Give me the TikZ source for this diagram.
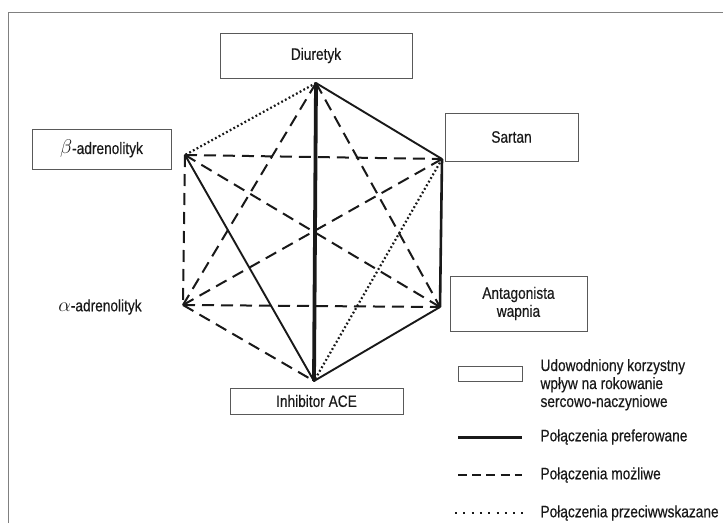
\documentclass[tikz,border=0pt]{standalone}
\usepackage{fontspec}
\setmainfont{Liberation Sans}[FakeStretch=0.83, FakeBold=0.4]
\newcommand{\grk}[1]{\scalebox{1.15}{$#1$}}
\begin{document}
\begin{tikzpicture}[x=1pt,y=-1pt,
  every node/.style={font=\fontsize{16.5}{18}\selectfont, text=black!90},
  box/.style={draw=black!65, line width=0.9pt, minimum width=#1, inner sep=0pt},
  box/.default=100pt,
  solidline/.style={draw=black!90, line width=1.9pt, line cap=round},
  thickline/.style={draw=black!90, line width=3.8pt},
  dashline/.style={draw=black!90, line width=2pt, dash pattern=on 12pt off 7pt},
  dotline/.style={draw=black!90, line width=2.2pt, dash pattern=on 1.8pt off 2.4pt},
  frame/.style={draw=black!50, line width=1pt}]
\useasboundingbox (0,0) rectangle (723,523);
\fill[white] (0,0) rectangle (723,523);
% frame
\draw[frame] (8,523) -- (8,12) -- (723,12);
% boxes
\node[box=192pt, minimum height=45pt] (diu) at (316,55.5) {Diuretyk};
\node[box=139pt, minimum height=40pt] (beta) at (101.5,149) {\grk{\beta}-adrenolityk};
\node (alpha) at (100,307) {\grk{\alpha}-adrenolityk};
\node[box=133pt, minimum height=48pt] (sar) at (511.5,137) {Sartan};
\node[box=137pt, minimum height=55pt, align=center] (ant) at (518.5,303.5) {Antagonista\\wapnia};
\node[box=173pt, minimum height=26pt] (ace) at (316.5,401) {Inhibitor ACE};
% vertices
\coordinate (D) at (316,83);
\coordinate (S) at (442,159);
\coordinate (A) at (440,307);
\coordinate (I) at (314,381);
\coordinate (B) at (185,155);
\coordinate (Al) at (183,305);
% connectors
\draw[dashline] (B) -- (S);
\draw[dashline] (B) -- (Al);
\draw[dashline] (Al) -- (A);
\draw[dashline] (D) -- (Al);
\draw[dashline] (D) -- (A);
\draw[dashline] (B) -- (A);
\draw[dashline] (Al) -- (S);
\draw[dashline] (Al) -- (I);
\draw[dotline] (D) -- (B);
\draw[dotline] (S) -- (I);
\draw[solidline] (D) -- (S);
\draw[solidline] (B) -- (I);
\draw[solidline] (A) -- (I);
\draw[draw=black!90, line width=2.6pt] (S) -- (A);
\draw[thickline] (D) -- (I);
% legend
\node[box=64pt, minimum height=15pt] (legbox) at (490,373.5) {};
\node[anchor=base west] (leg1a) at (537,371) {Udowodniony korzystny};
\node[anchor=base west] (leg1b) at (537,389) {wpływ na rokowanie};
\node[anchor=base west] (leg1c) at (537,407) {sercowo-naczyniowe};
\coordinate (l2a) at (458,437); \coordinate (l2b) at (522,437);
\draw[draw=black!90, line width=3pt] (l2a) -- (l2b);
\node[anchor=west] (leg2) at (537,437) {Połączenia preferowane};
\coordinate (l3a) at (458,475); \coordinate (l3b) at (522,475);
\draw[draw=black!90, line width=2.2pt, dash pattern=on 9pt off 5.2pt] (l3a) -- (l3b);
\node[anchor=west] (leg3) at (537,475) {Połączenia możliwe};
\coordinate (l4a) at (455,513); \coordinate (l4b) at (523,513);
\draw[draw=black!90, line width=2.2pt, dash pattern=on 2pt off 6.3pt] (l4a) -- (l4b);
\node[anchor=west] (leg4) at (537,513) {Połączenia przeciwwskazane};
\end{tikzpicture}
\end{document}
